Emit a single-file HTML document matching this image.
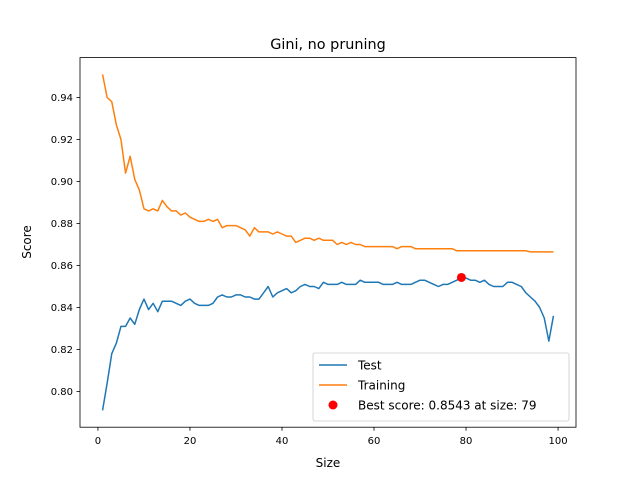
<!DOCTYPE html>
<html><head><meta charset="utf-8"><style>
body{margin:0;background:#fff;font-family:"Liberation Sans","DejaVu Sans",sans-serif}
svg text{font-family:"DejaVu Sans","Liberation Sans",sans-serif;fill:#000}
</style></head><body>
<svg id="chart" width="640" height="480" viewBox="0 0 640 480">
<rect width="640" height="480" fill="#fff"/>
<text x="328" y="49" font-size="14.4" text-anchor="middle">Gini, no pruning</text>
<g id="axes"></g>
<g id="series"></g>
<rect x="80" y="57.6" width="496" height="369.6" fill="none" stroke="#000" stroke-width="0.8"/>
<text x="328" y="467" font-size="12" text-anchor="middle">Size</text>
<text transform="translate(31,242) rotate(-90)" font-size="12" text-anchor="middle">Score</text>
<g>
<rect x="313" y="353" width="256" height="68" rx="2" fill="#fff" fill-opacity="0.8" stroke="#ccc" stroke-width="0.8"/>
<line x1="319" y1="365" x2="347" y2="365" stroke="#1f77b4" stroke-width="1.5"/>
<text x="358" y="369.5" font-size="12">Test</text>
<line x1="319" y1="385" x2="347" y2="385" stroke="#ff7f0e" stroke-width="1.5"/>
<text x="358" y="389.5" font-size="12">Training</text>
<circle cx="333" cy="405" r="4.5" fill="red"/>
<text x="358" y="409.5" font-size="12">Best score: 0.8543 at size: 79</text>
</g>
</svg>
<script>
const testScores=[0.791,0.804,0.818,0.823,0.831,0.831,0.835,0.832,0.839,0.844,0.839,0.842,0.838,0.843,0.843,0.843,0.842,0.841,0.843,0.844,0.842,0.841,0.841,0.841,0.842,0.845,0.846,0.845,0.845,0.846,0.846,0.845,0.845,0.844,0.844,0.847,0.850,0.845,0.847,0.848,0.849,0.847,0.848,0.850,0.851,0.850,0.850,0.849,0.852,0.851,0.851,0.851,0.852,0.851,0.851,0.851,0.853,0.852,0.852,0.852,0.852,0.851,0.851,0.851,0.852,0.851,0.851,0.851,0.852,0.853,0.853,0.852,0.851,0.850,0.851,0.851,0.852,0.853,0.8543,0.854,0.853,0.853,0.852,0.853,0.851,0.850,0.850,0.850,0.852,0.852,0.851,0.850,0.847,0.845,0.843,0.840,0.835,0.824,0.836];
const trainScores=[0.951,0.940,0.938,0.927,0.920,0.904,0.912,0.901,0.896,0.887,0.886,0.887,0.886,0.891,0.888,0.886,0.886,0.884,0.885,0.883,0.882,0.881,0.881,0.882,0.881,0.882,0.878,0.879,0.879,0.879,0.878,0.877,0.874,0.878,0.876,0.876,0.876,0.875,0.876,0.875,0.874,0.874,0.871,0.872,0.873,0.873,0.872,0.873,0.872,0.872,0.872,0.870,0.871,0.870,0.871,0.870,0.870,0.869,0.869,0.869,0.869,0.869,0.869,0.869,0.868,0.869,0.869,0.869,0.868,0.868,0.868,0.868,0.868,0.868,0.868,0.868,0.868,0.867,0.867,0.867,0.867,0.867,0.867,0.867,0.867,0.867,0.867,0.867,0.867,0.867,0.867,0.867,0.867,0.8665,0.8665,0.8665,0.8665,0.8665,0.8665];
const xTicks=[0,20,40,60,80,100];
const yTicks=[0.80,0.82,0.84,0.86,0.88,0.90,0.92,0.94];
const bestSize=[79];
const bestScore=[0.8543];
const NS="http://www.w3.org/2000/svg";
const X0=80,X1=576,Y0=57.6,Y1=427.2;
const n=testScores.length;
const xmin=1-(n-1)*0.05,xmax=n+(n-1)*0.05;
const all=testScores.concat(trainScores);
const lo=Math.min(...all),hi=Math.max(...all),pad=(hi-lo)*0.05;
const ymin=lo-pad,ymax=hi+pad;
const sx=v=>X0+(v-xmin)/(xmax-xmin)*(X1-X0);
const sy=v=>Y1-(v-ymin)/(ymax-ymin)*(Y1-Y0);
const axes=document.getElementById('axes'),series=document.getElementById('series');
function mk(t,a,p){const e=document.createElementNS(NS,t);for(const k in a)e.setAttribute(k,a[k]);p.appendChild(e);return e;}
xTicks.forEach(v=>{const x=sx(v);
mk('line',{x1:x,x2:x,y1:Y1,y2:Y1+3.5,stroke:'#000','stroke-width':0.8},axes);
const t=mk('text',{x:x,y:Y1+17,'font-size':10,'text-anchor':'middle'},axes);t.textContent=v;

});
yTicks.forEach(v=>{const y=sy(v);
mk('line',{x1:X0-3.5,x2:X0,y1:y,y2:y,stroke:'#000','stroke-width':0.8},axes);
const t=mk('text',{x:X0-7,y:y+3.5,'font-size':10,'text-anchor':'end'},axes);t.textContent=v.toFixed(2);

});
function line(arr,color,name){const d=arr.map((v,i)=>(i?'L':'M')+sx(i+1).toFixed(2)+','+sy(v).toFixed(2)).join('');
const p=mk('path',{d:d,fill:'none',stroke:color,'stroke-width':1.5,'stroke-linejoin':'round'},series);

}
line(testScores,'#1f77b4','test-line');
line(trainScores,'#ff7f0e','training-line');
const c=mk('circle',{cx:sx(bestSize[0]),cy:sy(bestScore[0]),r:4.5,fill:'red'},series);


</script>
</body></html>
